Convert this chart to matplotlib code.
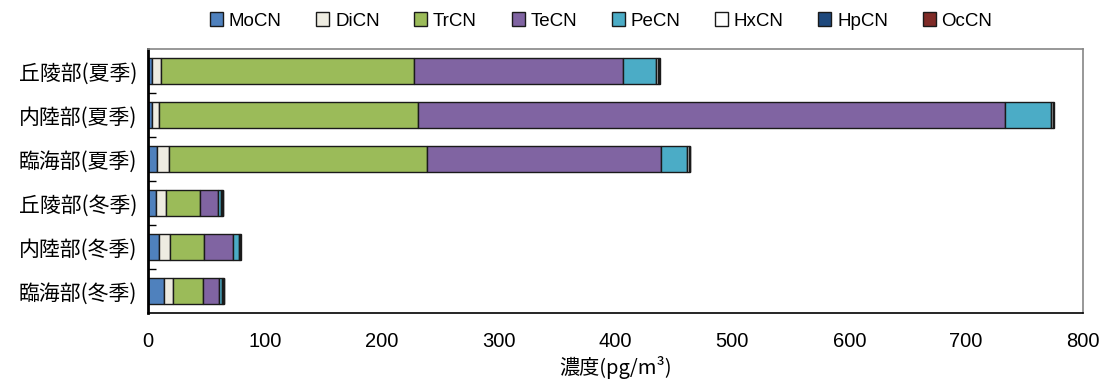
import matplotlib.pyplot as plt
import numpy as np

plt.rcParams["font.family"] = ["Liberation Sans", "DejaVu Sans"]
jp_font = ["Noto Sans CJK JP", "DejaVu Sans"]

sites = ["丘陵部(夏季)", "内陸部(夏季)", "臨海部(夏季)",
         "丘陵部(冬季)", "内陸部(冬季)", "臨海部(冬季)"]
homologues = ["MoCN", "DiCN", "TrCN", "TeCN", "PeCN", "HxCN", "HpCN", "OcCN"]
colors = ["#4F81BD", "#EEECE1", "#9BBB59", "#8064A2",
          "#4BACC6", "#FFFFFF", "#1F497D", "#7F2B27"]

# concentrations [pg/m3], one list per homologue, in site order
mocn = [3.2, 3.7, 7.4, 6.8, 9.7, 14.0]
dicn = [7.7, 6.0, 10.3, 8.6, 9.1, 7.1]
trcn = [216.6, 221.0, 220.7, 29.1, 29.1, 25.7]
tecn = [178.8, 502.9, 200.2, 15.7, 24.5, 13.7]
pecn = [28.3, 38.6, 22.3, 2.3, 5.2, 3.1]
hxcn = [2.0, 2.0, 2.0, 1.0, 0.8, 0.9]
hpcn = [0.8, 0.5, 0.5, 0.6, 0.6, 0.5]
occn = [0.4, 0.3, 0.2, 0.3, 0.3, 0.3]
series = [mocn, dicn, trcn, tecn, pecn, hxcn, hpcn, occn]

fig = plt.figure(figsize=(11.03, 3.81), dpi=100)
ax = fig.add_axes([148 / 1103, 1 - 313 / 381, 935 / 1103, 264 / 381])

y = np.arange(len(sites))
left = np.zeros(len(sites))
for name, vals, c in zip(homologues, series, colors):
    vals = np.array(vals)
    ax.barh(y, vals, left=left, height=0.59, color=c, edgecolor="#1a1a1a",
            linewidth=1.0, label=name)
    left += vals

ax.set_xlim(0, 800)
ax.set_ylim(len(sites) - 0.5, -0.5)
ax.set_xticks(np.arange(0, 801, 100))
ax.set_yticks(y)
ax.set_yticklabels(sites, family=jp_font, fontsize=15)
ax.set_yticks(np.arange(0.5, len(sites) - 0.5, 1), minor=True)
ax.tick_params(axis="y", which="major", length=0, pad=8)
ax.tick_params(axis="y", which="minor", direction="in", length=6, width=1, color="black")
ax.tick_params(axis="x", length=0, pad=14, labelsize=14.5)

ax.spines["left"].set_linewidth(2)
ax.spines["bottom"].set_linewidth(1.2)
for s in ["top", "right"]:
    ax.spines[s].set_color("#868686")
    ax.spines[s].set_linewidth(1.2)

ax.set_xlabel("濃度(pg/m³)", family=jp_font, fontsize=14.5, labelpad=3)

handles, labels = ax.get_legend_handles_labels()
fig.legend(handles, labels, loc="center", bbox_to_anchor=(0.545, 0.945), ncol=8,
           frameon=False, fontsize=13.5, handlelength=0.7, handleheight=0.7,
           handletextpad=0.3, columnspacing=1.85)

fig.savefig("out.png")
